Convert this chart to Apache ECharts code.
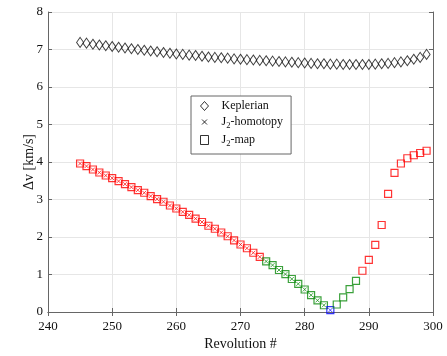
<!DOCTYPE html>
<html>
<head>
<meta charset="utf-8">
<script src="https://cdn.jsdelivr.net/npm/echarts@6/dist/echarts.min.js"></script>
<style>html,body{margin:0;padding:0;background:#fff}#c{width:447px;height:356px}</style>
</head>
<body>
<div id="c"></div>
<script>
// Revolutions 245..299
const revolutions = [245,246,247,248,249,250,251,252,253,254,255,256,257,258,259,260,261,262,263,264,265,266,267,268,269,270,271,272,273,274,275,276,277,278,279,280,281,282,283,284,285,286,287,288,289,290,291,292,293,294,295,296,297,298,299];
const keplerian = [7.19,7.17,7.14,7.12,7.10,7.08,7.06,7.04,7.02,7.00,6.98,6.96,6.94,6.92,6.90,6.88,6.87,6.85,6.84,6.82,6.80,6.79,6.78,6.77,6.75,6.74,6.73,6.72,6.71,6.70,6.69,6.68,6.67,6.66,6.65,6.64,6.63,6.62,6.62,6.61,6.61,6.60,6.60,6.60,6.60,6.60,6.61,6.62,6.63,6.65,6.67,6.70,6.74,6.79,6.87];
const j2map = [3.96,3.89,3.80,3.72,3.64,3.57,3.49,3.41,3.33,3.25,3.18,3.09,3.01,2.94,2.84,2.76,2.67,2.59,2.49,2.40,2.30,2.22,2.12,2.02,1.91,1.80,1.70,1.58,1.47,1.35,1.25,1.12,1.01,0.88,0.75,0.60,0.45,0.31,0.18,0.05,0.20,0.39,0.61,0.83,1.10,1.39,1.79,2.32,3.15,3.71,3.96,4.10,4.18,4.24,4.30];
// J2-homotopy solutions exist for revolutions 245..284
const homotopyRevs = [245,246,247,248,249,250,251,252,253,254,255,256,257,258,259,260,261,262,263,264,265,266,267,268,269,270,271,272,273,274,275,276,277,278,279,280,281,282,283,284];
const j2homotopy = [3.96,3.89,3.80,3.72,3.64,3.57,3.49,3.41,3.33,3.25,3.18,3.09,3.01,2.94,2.84,2.76,2.67,2.59,2.49,2.40,2.30,2.22,2.12,2.02,1.91,1.80,1.70,1.58,1.47,1.35,1.25,1.12,1.01,0.88,0.75,0.60,0.45,0.31,0.18,0.05];
// segment start revolutions (colour groups)
const segmentStarts = [245, 274, 284, 285, 289];
const segmentColors = ['#ff0000', '#0a8a0a', '#0000ff', '#0a8a0a', '#ff0000'];
const xTicks = [240, 300, 10];
const yTicks = [0, 8, 1];

const FONT = '"Liberation Serif", "Times New Roman", serif';
function segIndex(r){ let k=0; for(let i=0;i<segmentStarts.length;i++){ if(r>=segmentStarts[i]) k=i; } return k; }

const series = [];
series.push({
  name:'Keplerian', type:'scatter', symbol:'diamond', symbolSize:[7,10],
  data: revolutions.map((r,i)=>[r,keplerian[i]]),
  itemStyle:{color:'rgba(0,0,0,0)', borderColor:'#111', borderWidth:1},
  z:3
});
const crossPath = 'path://M0,0L10,10M10,0L0,10';
segmentStarts.forEach((s,k)=>{
  const mapData = revolutions.map((r,i)=>[r,j2map[i]]).filter(d=>segIndex(d[0])===k);
  series.push({
    name:'map'+k, type:'scatter', symbol:'rect', symbolSize:7,
    data:mapData,
    itemStyle:{color:'rgba(0,0,0,0)', borderColor:segmentColors[k], borderWidth:1.2},
    z:3
  });
  const homData = homotopyRevs.map((r,i)=>[r,j2homotopy[i]]).filter(d=>segIndex(d[0])===k);
  if(homData.length){
    series.push({
      name:'hom'+k, type:'scatter', symbol:crossPath, symbolSize:4,
      data:homData,
      itemStyle:{color:'rgba(0,0,0,0)', borderColor:segmentColors[k], borderWidth:0.9},
      z:4
    });
  }
});
// legend-only series
series.push({name:'J2-homotopy', type:'scatter', symbol:crossPath, symbolSize:6, data:[],
  itemStyle:{color:'rgba(0,0,0,0)', borderColor:'#000', borderWidth:1}});
series.push({name:'J2-map', type:'scatter', symbol:'rect', symbolSize:8, data:[],
  itemStyle:{color:'rgba(0,0,0,0)', borderColor:'#000', borderWidth:1}});

const axisCommon = {
  axisLine:{show:true, lineStyle:{color:'#666', width:1}},
  axisTick:{show:true, inside:true, length:4, lineStyle:{color:'#666'}},
  splitLine:{show:false}
};
const smallCross = 'path://M-3,-3M0,0L10,10M10,0L0,10M13,13';
const option = {
  backgroundColor:'#fff',
  animation:false,
  grid:{left:48, right:14, top:12, bottom:40, show:false},
  legend:{
    orient:'vertical', left:191, top:96,
    data:[
      {name:'Keplerian', icon:'diamond', itemStyle:{color:'rgba(0,0,0,0)', borderColor:'#000', borderWidth:1}},
      {name:'J2-homotopy', icon:smallCross, itemStyle:{color:'rgba(0,0,0,0)', borderColor:'#000', borderWidth:1}},
      {name:'J2-map', icon:'rect', itemStyle:{color:'rgba(0,0,0,0)', borderColor:'#000', borderWidth:1}}
    ],
    itemWidth:8, itemHeight:9, itemGap:4,
    padding:[4,8,6,9],
    borderColor:'#666', borderWidth:1, backgroundColor:'#fff',
    selectedMode:false,
    formatter:function(n){
      if(n.indexOf('J2')===0){ return '{a|J}{s|2}{a|'+n.slice(2)+'}'; }
      return '{a|'+n+'}';
    },
    textStyle:{fontFamily:FONT, fontSize:12, color:'#111', padding:[0,0,0,8],
      rich:{a:{fontFamily:FONT, fontSize:12, color:'#111'}, s:{fontFamily:FONT, fontSize:8.5, color:'#111', padding:[7,0,0,0]}}}
  },
  xAxis:[
    Object.assign({type:'value', min:xTicks[0], max:xTicks[1], interval:xTicks[2], position:'bottom',
      name:'Revolution #', nameLocation:'middle', nameGap:25, nameMoveOverlap:false,
      nameTextStyle:{fontFamily:FONT, fontSize:14, color:'#111'},
      axisLabel:{fontFamily:FONT, fontSize:13, color:'#111', margin:8},
    }, axisCommon, {splitLine:{show:true, lineStyle:{color:'#e6e6e6', width:1}}}),
    Object.assign({type:'value', min:xTicks[0], max:xTicks[1], interval:xTicks[2], position:'top',
      axisLabel:{show:false}}, axisCommon)
  ],
  yAxis:[
    Object.assign({type:'value', min:yTicks[0], max:yTicks[1], interval:yTicks[2], position:'left',
      name:'\u0394v [km/s]', nameLocation:'middle', nameGap:12, nameMoveOverlap:false,
      nameTextStyle:{fontFamily:FONT, fontSize:14, color:'#111'},
      axisLabel:{fontFamily:FONT, fontSize:13, color:'#111', margin:5},
    }, axisCommon, {splitLine:{show:true, lineStyle:{color:'#e6e6e6', width:1}}}),
    Object.assign({type:'value', min:yTicks[0], max:yTicks[1], interval:yTicks[2], position:'right',
      axisLabel:{show:false}}, axisCommon)
  ],
  series: series
};
const chart = echarts.init(document.getElementById('c'), null, {renderer:'canvas'});
chart.setOption(option);
</script>
</body>
</html>
